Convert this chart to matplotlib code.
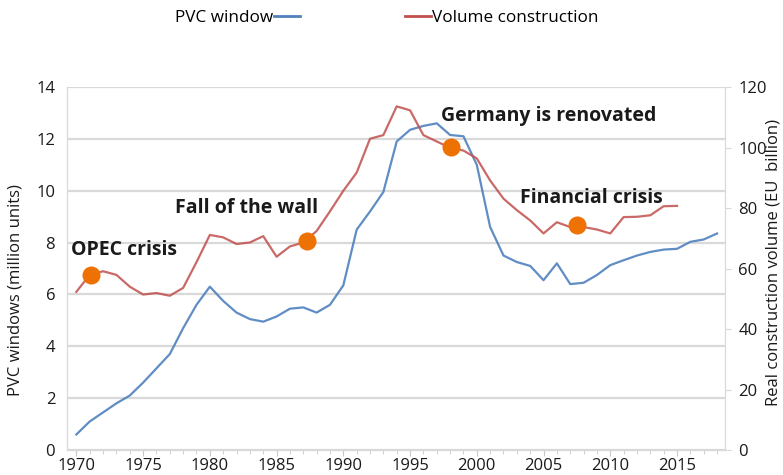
import numpy as np
import matplotlib.pyplot as plt
from matplotlib.lines import Line2D

plt.rcParams['font.family'] = ['Open Sans', 'DejaVu Sans']

# PVC windows, million units (left axis)
pvc_years = list(range(1970, 2019))
pvc_windows = [0.6, 1.1, 1.45, 1.8, 2.1, 2.6, 3.15, 3.7, 4.7, 5.6,
               6.3, 5.75, 5.3, 5.05, 4.95, 5.15, 5.45, 5.5, 5.3, 5.6,
               6.35, 8.5, 9.2, 9.95, 11.9, 12.35, 12.5, 12.6, 12.15, 12.1,
               11.0, 8.6, 7.5, 7.25, 7.1, 6.55, 7.2, 6.4, 6.45, 6.75,
               7.13, 7.32, 7.5, 7.64, 7.73, 7.76, 8.03, 8.12, 8.35]

# real construction volume, EU billion (right axis)
vol_years = list(range(1970, 2016))
volume = [52.3, 57.9, 59.1, 57.9, 54.0, 51.4, 51.9, 51.0, 53.6, 62.1,
          71.1, 70.3, 68.1, 68.6, 70.7, 63.9, 67.3, 68.6, 72.4, 78.9,
          85.7, 91.7, 102.9, 104.1, 113.6, 112.3, 104.1, 102.0, 99.9, 99.0,
          96.4, 89.1, 83.1, 79.3, 75.9, 71.6, 75.3, 73.7, 73.7, 72.9,
          71.6, 77.0, 77.1, 77.6, 80.6, 80.7]

events = ["OPEC crisis", "Fall of the wall", "Germany is renovated", "Financial crisis"]
event_years = [1971.1, 1987.3, 1998.1, 2007.5]
event_values = [57.8, 69.0, 100.1, 74.3]

x_ticks = list(range(1970, 2020, 5))

fig = plt.figure(figsize=(7.83, 4.75), dpi=100)
ax = fig.add_axes([0.0856, 0.0526, 0.8404, 0.7642])
ax2 = ax.twinx()

grid_c = "#d9d9d9"
txt_c = "#1a1a1a"

ax.plot(pvc_years, pvc_windows, color="#4F81BD", lw=1.6, alpha=0.9, zorder=3)
ax2.plot(vol_years, volume, color="#C0504D", lw=1.6, alpha=0.85, zorder=3)
ax2.plot(event_years, event_values, 'o', color="#EE7203", ms=13, mec="none", zorder=5)

# where the event labels sit (left edge, vertical centre), in data units
label_pos = [(1969.6, 66.1), (1977.4, 80.0), (1997.3, 110.4), (2003.2, 83.3)]
for name, (lx, ly) in zip(events, label_pos):
    ax2.text(lx, ly, name, fontsize=14, fontweight="bold", color=txt_c,
             ha="left", va="center")

ax.set_xlim(1969.3, 2018.6)
ax.set_ylim(0, 14)
ax2.set_ylim(0, 120)
ax.set_yticks(range(0, 15, 2))
ax2.set_yticks(range(0, 121, 20))
ax.set_xticks(x_ticks)
ax.set_xticks(pvc_years, minor=True)

ax.grid(axis="y", color=grid_c, lw=1.6)
ax.set_axisbelow(True)
for a in (ax, ax2):
    for s in a.spines.values():
        s.set_color(grid_c)
    a.spines["top"].set_visible(False)
ax.spines["bottom"].set_color("#c8c8c8")

ax.tick_params(axis="y", length=0, labelsize=12, labelcolor=txt_c, pad=8.5)
ax2.tick_params(axis="y", length=4, color=grid_c, labelsize=12, labelcolor=txt_c, pad=5.5)
ax.tick_params(axis="x", which="major", length=4, color="#c8c8c8", labelsize=12, labelcolor=txt_c, pad=2)
ax.tick_params(axis="x", which="minor", length=3, color="#c8c8c8")

# axis titles placed by hand, like in the source picture
fig.text(16 / 783, 1 - 290 / 475, "PVC windows (million units)", rotation=90,
         fontsize=12, color=txt_c, ha="center", va="center")
fig.text(774 / 783, 1 - 262 / 475, "Real construction volume (EU  billion)", rotation=90,
         fontsize=12, color=txt_c, ha="center", va="center")

h1 = [Line2D([], [], color="#4F81BD", lw=2)]
h2 = [Line2D([], [], color="#C0504D", lw=2)]
fig.legend(h1, ["PVC window"], loc="center", bbox_to_anchor=(0.303, 0.962), frameon=False,
           markerfirst=False, fontsize=12.3, handlelength=1.5, handletextpad=0.05)
fig.legend(h2, ["Volume construction"], loc="center", bbox_to_anchor=(0.641, 0.962), frameon=False,
           fontsize=12.3, handlelength=1.5, handletextpad=0.05)

fig.savefig("out.png", dpi=100)
